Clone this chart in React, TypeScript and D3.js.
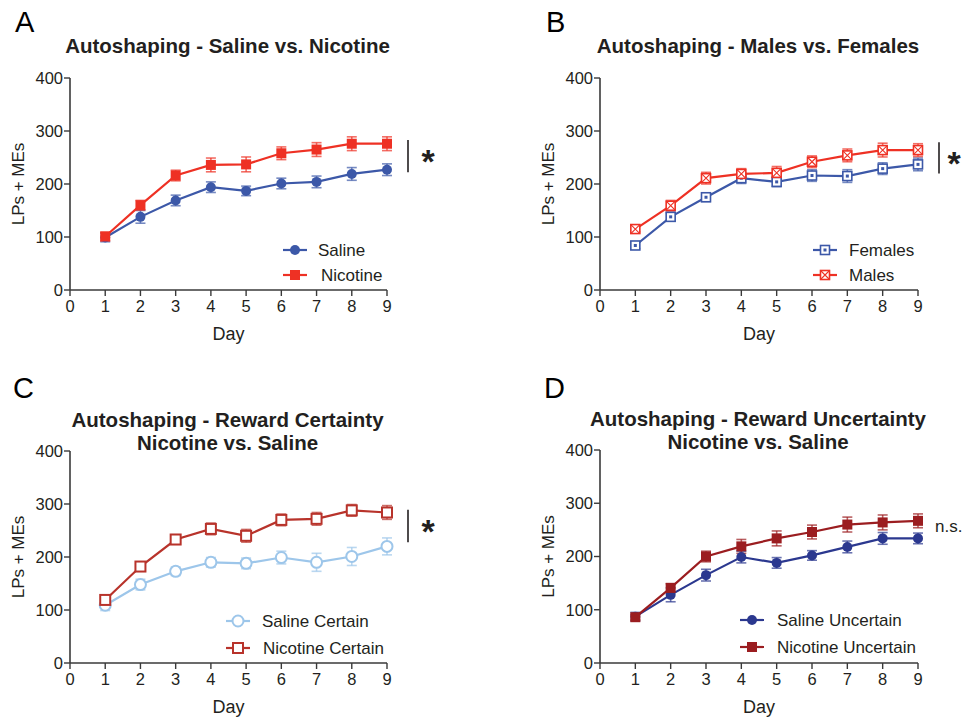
import React from "react";
import * as d3 from "d3";

const days = [1, 2, 3, 4, 5, 6, 7, 8, 9];
const xTicks = [0, 1, 2, 3, 4, 5, 6, 7, 8, 9];
const yTicks = [0, 100, 200, 300, 400];

// Panel A
const salineA = [99, 138, 169, 194, 187, 201, 204, 219, 227];
const salineAErr = [8, 12, 10, 10, 9, 10, 11, 12, 11];
const nicotineA = [101, 160, 216, 236, 237, 258, 265, 276, 276];
const nicotineAErr = [8, 9, 10, 13, 14, 12, 13, 13, 13];

// Panel B
const femalesB = [84, 138, 175, 211, 204, 216, 215, 229, 237];
const femalesBErr = [6, 8, 8, 10, 9, 11, 12, 11, 12];
const malesB = [115, 159, 211, 219, 221, 242, 254, 264, 264];
const malesBErr = [5, 10, 11, 10, 12, 11, 12, 13, 12];

// Panel C
const salineCertainC = [109, 148, 173, 190, 188, 199, 190, 201, 220];
const salineCertainCErr = [10, 10, 8, 9, 10, 12, 17, 17, 16];
const nicotineCertainC = [119, 182, 233, 253, 240, 270, 272, 288, 284];
const nicotineCertainCErr = [5, 8, 9, 11, 12, 11, 12, 11, 13];

// Panel D
const salineUncertainD = [87, 128, 165, 199, 188, 202, 218, 234, 234];
const salineUncertainDErr = [8, 13, 11, 11, 10, 9, 11, 11, 10];
const nicotineUncertainD = [86, 141, 200, 219, 234, 246, 260, 264, 267];
const nicotineUncertainDErr = [5, 8, 10, 13, 14, 13, 14, 14, 13];

const FONT = "'Liberation Sans', Arial, Helvetica, sans-serif";
const AXIS = "#3a3a3a";

type MarkerKind = "circle" | "square" | "squareDot" | "squareX" | "openCircle" | "openSquare";

interface Series {
  name: string;
  values: number[];
  errors: number[];
  color: string;
  marker: MarkerKind;
}

function Marker({ kind, x, y, color }: { kind: MarkerKind; x: number; y: number; color: string }) {
  switch (kind) {
    case "circle":
      return <circle cx={x} cy={y} r={5} fill={color} />;
    case "square":
      return <rect x={x - 5} y={y - 5} width={10} height={10} fill={color} />;
    case "squareDot":
      return (
        <g>
          <rect x={x - 4.5} y={y - 4.5} width={9} height={9} fill="white" stroke={color} strokeWidth={1.6} />
          <rect x={x - 1.5} y={y - 1.5} width={3} height={3} fill={color} />
        </g>
      );
    case "squareX":
      return (
        <g>
          <rect x={x - 4.5} y={y - 4.5} width={9} height={9} fill="white" stroke={color} strokeWidth={1.6} />
          <path d={`M${x - 4.5},${y - 4.5}L${x + 4.5},${y + 4.5}M${x + 4.5},${y - 4.5}L${x - 4.5},${y + 4.5}`} stroke={color} strokeWidth={1.1} />
        </g>
      );
    case "openCircle":
      return <circle cx={x} cy={y} r={5.5} fill="white" stroke={color} strokeWidth={2} />;
    case "openSquare":
      return <rect x={x - 5} y={y - 5} width={10} height={10} fill="white" stroke={color} strokeWidth={2} />;
  }
  return null;
}

interface PanelProps {
  letter: string;
  letterX: number;
  letterY: number;
  titles: string[];
  titleYs: number[];
  x0: number;
  x1: number;
  yTop: number;
  yBot: number;
  series: Series[];
  legendLineX: number;
  legendTextX: number[];
  legendYs: number[];
  annotation: "star" | "ns";
  annotTop: number;
  annotBot: number;
  starDx?: number;
}

function Panel(p: PanelProps) {
  const x = d3.scaleLinear().domain([0, 9]).range([p.x0, p.x1]);
  const y = d3.scaleLinear().domain([0, 400]).range([p.yBot, p.yTop]);
  const line = d3
    .line<number>()
    .x((_, i) => x(days[i]))
    .y((v) => y(v));
  const titleCx = (p.x0 + p.x1) / 2 - 1;
  const yMid = (p.yTop + p.yBot) / 2;
  const barX = p.x1 + 21;
  const barTop = y(p.annotTop);
  const barBot = y(p.annotBot);
  const starDx = p.starDx ?? 20;
  return (
    <g fontFamily={FONT}>
      <text x={p.letterX} y={p.letterY} fontSize={29} fill="#000">
        {p.letter}
      </text>
      {p.titles.map((t, i) => (
        <text key={i} x={titleCx} y={p.titleYs[i]} textAnchor="middle" fontSize={20.5} fontWeight="bold" fill="#231f20">
          {t}
        </text>
      ))}
      {/* axes */}
      <line x1={p.x0} x2={p.x0} y1={p.yTop} y2={p.yBot} stroke={AXIS} strokeWidth={1.6} />
      <line x1={p.x0} x2={p.x1} y1={p.yBot} y2={p.yBot} stroke={AXIS} strokeWidth={1.6} />
      {yTicks.map((t) => (
        <g key={"y" + t}>
          <line x1={p.x0 - 6} x2={p.x0} y1={y(t)} y2={y(t)} stroke={AXIS} strokeWidth={1.4} />
          <text x={p.x0 - 7} y={y(t)} dy="0.35em" textAnchor="end" fontSize={16.5} fill="#231f20">
            {t}
          </text>
        </g>
      ))}
      {xTicks.map((t) => (
        <g key={"x" + t}>
          <line x1={x(t)} x2={x(t)} y1={p.yBot} y2={p.yBot + 6} stroke={AXIS} strokeWidth={1.4} />
          <text x={x(t)} y={p.yBot + 22} textAnchor="middle" fontSize={16.5} fill="#231f20">
            {t}
          </text>
        </g>
      ))}
      <text x={titleCx + 1} y={p.yBot + 50} textAnchor="middle" fontSize={18} fill="#231f20">
        Day
      </text>
      <text
        transform={`translate(${p.x0 - 52},${yMid}) rotate(-90)`}
        textAnchor="middle"
        dy="0.35em"
        fontSize={17}
        fill="#231f20"
      >
        LPs + MEs
      </text>
      {/* series */}
      {p.series.map((s, si) => (
        <g key={"s" + si}>
          {s.values.map((v, i) => {
            const cx = x(days[i]);
            const hi = y(v + s.errors[i]);
            const lo = y(v - s.errors[i]);
            return (
              <g key={i} stroke={s.color} strokeOpacity={0.7} strokeWidth={1.6}>
                <line x1={cx} x2={cx} y1={hi} y2={lo} />
                <line x1={cx - 5} x2={cx + 5} y1={hi} y2={hi} />
                <line x1={cx - 5} x2={cx + 5} y1={lo} y2={lo} />
              </g>
            );
          })}
        </g>
      ))}
      {p.series.map((s, si) => (
        <g key={"l" + si}>
          <path d={line(s.values) || ""} fill="none" stroke={s.color} strokeWidth={2.2} />
          {s.values.map((v, i) => (
            <Marker key={i} kind={s.marker} x={x(days[i])} y={y(v)} color={s.color} />
          ))}
        </g>
      ))}
      {/* legend */}
      {p.series.map((s, si) => (
        <g key={"lg" + si}>
          <line x1={p.legendLineX} x2={p.legendLineX + 24} y1={p.legendYs[si]} y2={p.legendYs[si]} stroke={s.color} strokeWidth={2.2} />
          <Marker kind={s.marker} x={p.legendLineX + 12} y={p.legendYs[si]} color={s.color} />
          <text x={p.legendTextX[si]} y={p.legendYs[si]} dy="0.36em" fontSize={17} fill="#231f20">
            {s.name}
          </text>
        </g>
      ))}
      {/* annotation */}
      {p.annotation === "star" ? (
        <g>
          <line x1={barX} x2={barX} y1={barTop} y2={barBot} stroke="#231f20" strokeWidth={1.6} />
          <text x={barX + starDx} y={(barTop + barBot) / 2 + 17} textAnchor="middle" fontSize={34} fontWeight="bold" fill="#231f20">
            *
          </text>
        </g>
      ) : (
        <text x={p.x1 + 17} y={y(p.annotTop)} dy="0.35em" fontSize={17} fill="#231f20">
          n.s.
        </text>
      )}
    </g>
  );
}

export default function App() {
  return (
    <svg width={963} height={719} style={{ position: "absolute", left: 0, top: 0, background: "white" }}>
      <rect width={963} height={719} fill="white" />
      <Panel
        letter="A"
        letterX={15}
        letterY={32}
        titles={["Autoshaping - Saline vs. Nicotine"]}
        titleYs={[53]}
        x0={70}
        x1={387}
        yTop={78}
        yBot={290}
        series={[
          { name: "Saline", values: salineA, errors: salineAErr, color: "#3c58a8", marker: "circle" },
          { name: "Nicotine", values: nicotineA, errors: nicotineAErr, color: "#ee3124", marker: "square" },
        ]}
        legendLineX={283}
        legendTextX={[318, 321]}
        legendYs={[250, 275]}
        annotation="star"
        annotTop={283}
        annotBot={222}
      />
      <Panel
        letter="B"
        letterX={546}
        letterY={32}
        titles={["Autoshaping - Males vs. Females"]}
        titleYs={[53]}
        x0={600}
        x1={918}
        yTop={78}
        yBot={290}
        series={[
          { name: "Females", values: femalesB, errors: femalesBErr, color: "#3c58a8", marker: "squareDot" },
          { name: "Males", values: malesB, errors: malesBErr, color: "#ee3124", marker: "squareX" },
        ]}
        legendLineX={813}
        legendTextX={[849, 849]}
        legendYs={[250, 275]}
        annotation="star"
        annotTop={279}
        annotBot={220}
        starDx={15}
      />
      <Panel
        letter="C"
        letterX={13}
        letterY={398}
        titles={["Autoshaping - Reward Certainty", "Nicotine vs. Saline"]}
        titleYs={[427, 450]}
        x0={70}
        x1={387}
        yTop={451}
        yBot={663}
        series={[
          { name: "Saline Certain", values: salineCertainC, errors: salineCertainCErr, color: "#9dc6ea", marker: "openCircle" },
          { name: "Nicotine Certain", values: nicotineCertainC, errors: nicotineCertainCErr, color: "#b8332b", marker: "openSquare" },
        ]}
        legendLineX={226}
        legendTextX={[262, 263]}
        legendYs={[621, 648]}
        annotation="star"
        annotTop={289}
        annotBot={228}
      />
      <Panel
        letter="D"
        letterX={544}
        letterY={398}
        titles={["Autoshaping - Reward Uncertainty", "Nicotine vs. Saline"]}
        titleYs={[426, 449]}
        x0={600}
        x1={918}
        yTop={450}
        yBot={663}
        series={[
          { name: "Saline Uncertain", values: salineUncertainD, errors: salineUncertainDErr, color: "#2b388f", marker: "circle" },
          { name: "Nicotine Uncertain", values: nicotineUncertainD, errors: nicotineUncertainDErr, color: "#9b1d20", marker: "square" },
        ]}
        legendLineX={740}
        legendTextX={[777, 777]}
        legendYs={[620, 647]}
        annotation="ns"
        annotTop={257}
        annotBot={257}
      />
    </svg>
  );
}
